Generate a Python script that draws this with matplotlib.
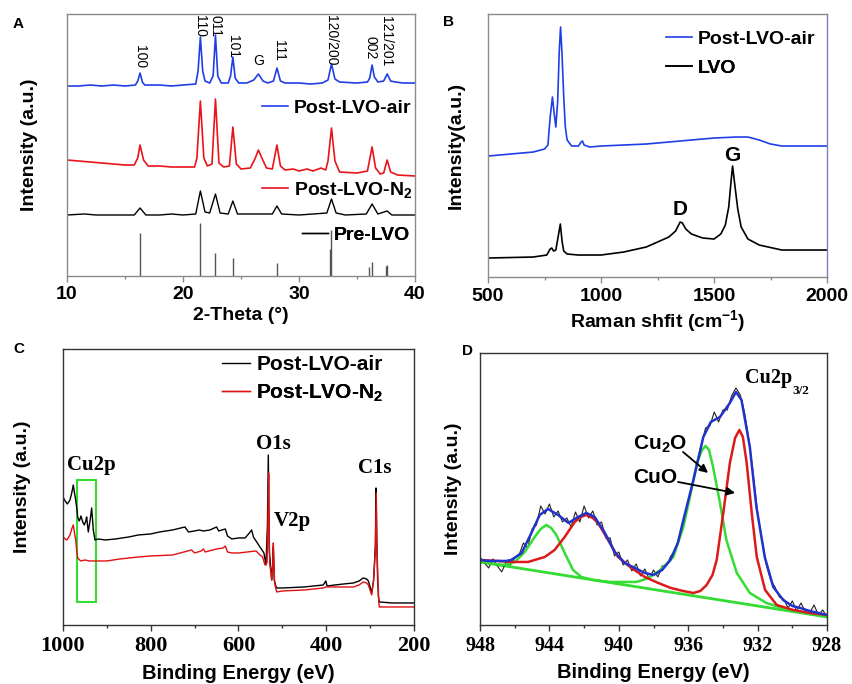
import matplotlib
matplotlib.use("Agg")
import matplotlib.pyplot as plt
from matplotlib.patches import Rectangle

plt.rcParams['font.family'] = ['Liberation Sans', 'DejaVu Sans']
plt.rcParams['font.weight'] = 'bold'
plt.rcParams['mathtext.fontset'] = 'custom'
plt.rcParams['mathtext.rm'] = 'Liberation Sans:bold'
plt.rcParams['mathtext.bf'] = 'Liberation Sans:bold'
plt.rcParams['mathtext.it'] = 'Liberation Sans:bold'

# ---------------- A: XRD ----------------
xrd_air = [(10, 190), (11, 190), (12, 191), (13, 190), (14, 191), (15, 190), (15.9, 191), (16.1, 195),
           (16.3, 203), (16.5, 194), (16.7, 191), (18, 191), (19, 190), (20, 191), (21.1, 192), (21.3, 205),
           (21.5, 239), (21.7, 205), (21.9, 195), (22.3, 193), (22.6, 200), (22.8, 241), (23.0, 200),
           (23.3, 193), (23.9, 193), (24.1, 200), (24.3, 219), (24.5, 198), (24.8, 193), (25.5, 193),
           (26.1, 196), (26.5, 202), (26.9, 195), (27.3, 193), (27.8, 195), (28.1, 208), (28.4, 195),
           (28.8, 193), (30, 193), (31, 192), (32, 193), (32.5, 196), (32.8, 212), (33.1, 197), (33.5, 194),
           (35, 193), (35.9, 194), (36.1, 198), (36.3, 211), (36.5, 199), (36.8, 194), (37.3, 195),
           (37.6, 202), (37.9, 195), (38.3, 194), (39, 193), (40, 193)]
xrd_n2 = [(10, 116), (11, 115), (12, 114), (13, 113), (14, 112), (15, 111), (15.8, 111), (16.1, 118),
          (16.3, 131), (16.6, 116), (17, 110), (18, 110), (19, 109), (20, 109), (21, 109), (21.2, 118),
          (21.5, 175), (21.8, 118), (22.1, 110), (22.5, 112), (22.8, 177), (23.1, 113), (23.5, 109),
          (24.0, 110), (24.3, 149), (24.6, 112), (25, 107), (25.8, 108), (26.2, 117), (26.5, 126),
          (26.8, 118), (27.2, 108), (27.7, 107), (28.1, 131), (28.4, 110), (28.8, 106), (29.5, 107),
          (30, 105), (30.7, 107), (31.2, 105), (31.9, 108), (32.3, 106), (32.5, 115), (32.8, 148),
          (33.1, 115), (33.5, 104), (35, 103), (35.9, 105), (36.3, 129), (36.6, 108), (37, 102),
          (37.3, 103), (37.6, 116), (37.9, 104), (38.5, 101), (40, 100)]
xrd_pre = [(10, 61), (11.5, 62), (12.5, 61), (14, 61), (15.8, 61), (16.3, 68), (16.8, 61), (18, 61),
           (19, 62), (20, 61), (21.1, 62), (21.5, 85), (21.9, 64), (22.3, 63), (22.8, 82), (23.2, 63),
           (23.9, 62), (24.3, 75), (24.7, 62), (26.5, 62), (27.7, 62), (28.1, 70), (28.5, 62), (30, 61),
           (32.4, 63), (32.8, 77), (33.2, 63), (34, 61), (35.8, 62), (36.3, 72), (36.8, 62), (37.6, 65),
           (38, 61), (40, 61)]
ref_pos = [16.3, 21.5, 22.8, 24.3, 28.1, 32.7, 32.8, 36.0, 36.3, 37.5, 37.6]
ref_height = [43, 53, 23, 18, 13, 27, 46, 9, 14, 10, 11]
peak_labels = ["100", "110", "011", "101", "G", "111", "120/200", "002", "121/201"]
peak_label_x = [16.3, 21.5, 22.8, 24.3, 26.5, 28.3, 32.8, 36.2, 37.5]
peak_label_y = [219, 250, 250, 230, 215, 226, 236, 228, 235]

# ---------------- B: Raman ----------------
raman_air = [(500, 121), (600, 123), (700, 125), (750, 128), (765, 132), (775, 160), (785, 180),
             (792, 165), (800, 150), (808, 175), (815, 225), (821, 250), (827, 225), (835, 180),
             (842, 150), (850, 137), (870, 131), (900, 131), (912, 135), (918, 136), (925, 132),
             (950, 130), (1000, 131), (1100, 132), (1200, 133), (1300, 135), (1400, 137), (1500, 139),
             (1600, 140), (1650, 140), (1700, 137), (1750, 133), (1800, 131), (1900, 131), (2000, 131)]
raman_lvo = [(500, 19), (600, 19.5), (700, 20), (760, 22), (775, 28), (782, 29), (790, 26), (800, 27),
             (810, 40), (820, 53), (828, 35), (835, 26), (850, 23), (900, 22), (1000, 22), (1100, 25),
             (1200, 30), (1250, 35), (1300, 40), (1330, 46), (1350, 55), (1360, 54), (1375, 48),
             (1400, 43), (1450, 39), (1500, 38), (1530, 43), (1550, 52), (1565, 70), (1575, 95),
             (1582, 111), (1592, 92), (1605, 68), (1620, 50), (1650, 38), (1700, 32), (1800, 27), (2000, 27)]

# ---------------- C: XPS survey ----------------
xps_air = [(1000, 128), (995, 124), (990, 121), (984, 125), (980, 132), (976.5, 140), (973, 130),
           (971, 125), (968, 115), (966.5, 108), (963, 104), (961, 106), (959, 109), (955, 103),
           (951.4, 100), (948, 104), (946, 108), (942.3, 93), (938, 105), (934.6, 117), (932, 102),
           (930.9, 95), (927, 85), (920, 86), (904, 85), (880, 86), (850, 88), (828, 90), (800, 91),
           (780, 93), (750, 95), (722, 98), (714, 93), (700, 94), (690, 95), (680, 94), (665, 95),
           (660, 96), (650, 98), (645, 94), (638, 95), (630, 96), (625, 89), (615, 86), (600, 87),
           (585, 87), (575, 92), (570, 95), (566, 88), (560, 84), (551, 78), (542, 72), (537.3, 60),
           (534, 100), (532, 170), (530, 75), (526, 55), (524.3, 45), (522, 60), (520.6, 78),
           (518.4, 45), (515, 39), (512.9, 37), (500, 37), (450, 38), (406.7, 40), (401, 44), (398, 39),
           (380, 40), (360, 41), (338, 42), (325, 44), (315.6, 47), (308, 46), (304, 44), (300, 38),
           (296.4, 32), (292, 45), (288, 80), (286.6, 137), (285, 90), (283, 47), (281, 28), (279, 23),
           (250, 22), (200, 22)]
xps_n2 = [(1000, 88), (995, 86), (991, 85), (984, 90), (980, 96), (976.5, 100), (973, 90), (971, 85),
          (968, 72), (966.5, 67), (962, 65), (959, 64), (950, 65), (940, 64), (927, 64), (900, 64),
          (870, 66), (828, 68), (800, 69), (750, 70), (707, 75), (700, 72), (685, 74), (680, 76),
          (676, 73), (650, 76), (635, 77), (630, 79), (625, 73), (615, 72), (600, 72), (580, 73),
          (560, 74), (551, 70), (545, 68), (539.6, 60), (535, 62), (533, 100), (531.2, 152), (529, 62),
          (526, 52), (524.3, 45), (522, 58), (520.6, 82), (517.7, 42), (512.9, 33), (500, 34), (450, 35),
          (406.7, 37), (400.6, 38), (380, 38), (338, 38), (325, 40), (315.6, 43), (308, 42), (304, 40),
          (296.4, 30), (292, 45), (288, 75), (285.9, 132), (284.5, 80), (282, 42), (280, 22), (279, 18),
          (250, 18), (200, 18)]
survey_labels = ["Cu2p", "O1s", "V2p", "C1s"]
survey_label_x = [935.5, 519.8, 478, 288.9]
survey_label_y = [155, 176, 99, 152]
cu_box = (924.1, 967.4, 23, 145)

# ---------------- D: Cu2p3/2 ----------------
cu_raw = [(948.00, 68), (947.75, 62), (947.50, 57), (947.25, 66), (947.00, 59), (946.75, 53),
          (946.50, 63), (946.25, 60), (946.00, 67), (945.75, 70), (945.50, 82), (945.25, 77),
          (945.00, 96), (944.75, 100), (944.50, 119), (944.25, 111), (944.00, 121), (943.75, 108),
          (943.50, 114), (943.25, 103), (943.00, 107), (942.75, 98), (942.50, 113), (942.25, 103),
          (942.00, 119), (941.75, 107), (941.50, 114), (941.25, 100), (941.00, 103), (940.75, 87),
          (940.50, 87), (940.25, 69), (940.00, 73), (939.75, 60), (939.50, 65), (939.25, 54),
          (939.00, 61), (938.75, 49), (938.50, 56), (938.25, 46), (938.00, 55), (937.75, 48),
          (937.50, 59), (937.25, 60), (937.00, 69), (936.75, 74), (936.50, 89), (936.25, 103),
          (936.00, 123), (935.75, 139), (935.50, 163), (935.25, 180), (935.00, 197), (934.75, 199),
          (934.50, 213), (934.25, 203), (934.00, 215), (933.75, 215), (933.50, 229), (933.25, 237),
          (933.00, 230), (932.75, 212), (932.50, 185), (932.25, 150), (932.00, 112), (931.75, 86),
          (931.50, 60), (931.25, 45), (931.00, 38), (930.75, 28), (930.50, 26), (930.25, 17),
          (930.00, 24), (929.75, 14), (929.50, 22), (929.25, 13), (929.00, 12), (928.75, 20),
          (928.50, 10), (928.25, 15), (928.00, 8)]
cu_envelope = [(948, 65), (947.5, 64), (947, 64), (946.5, 64), (946.2, 65), (945.6, 72), (945.04, 92),
               (944.56, 110), (944.08, 116), (943.5, 110), (942.9, 102), (942.35, 108), (941.87, 112),
               (941.39, 108), (940.8, 92), (940.24, 73), (939.66, 62), (939.08, 57), (938.5, 52),
               (938.0, 50), (937.5, 55), (937.03, 65), (936.6, 82), (936.28, 105), (935.7, 145),
               (935.13, 188), (934.7, 203), (934.17, 208), (933.6, 222), (933.25, 233), (932.93, 225),
               (932.45, 178), (932.07, 118), (931.59, 68), (931.1, 38), (930.53, 25), (930, 19),
               (929.55, 17), (929, 14), (928.5, 12), (928, 10)]
cu2o_fit = [(948, 63), (947, 60.5), (946.5, 60), (946.0, 63), (945.42, 73), (944.85, 88), (944.5, 96),
            (944.18, 100), (943.9, 97), (943.6, 90), (943.12, 72), (942.64, 55), (942.16, 48),
            (941.5, 45), (940.5, 43), (940, 43), (939, 43), (938.6, 45), (938.2, 48), (937.6, 55),
            (936.86, 68), (936.28, 98), (935.9, 128), (935.5, 162), (935.2, 175), (935.0, 179),
            (934.8, 175), (934.57, 158), (934.17, 122), (933.8, 85), (933.2, 52), (932.45, 32),
            (931.5, 22), (930.2, 15), (929, 11.5), (928, 9)]
cuo_fit = [(948, 65), (947, 64), (946.2, 63), (945.23, 63), (944.27, 68), (943.7, 75), (943.12, 88),
           (942.54, 103), (942.2, 108), (941.87, 110), (941.5, 107), (941.2, 102), (940.62, 85),
           (940.05, 68), (939.28, 57), (938.5, 48), (937.73, 42), (937, 37), (936.3, 34), (935.7, 32),
           (935.3, 34), (934.94, 40), (934.6, 50), (934.36, 65), (933.98, 112), (933.6, 162),
           (933.3, 187), (933.05, 195), (932.85, 188), (932.63, 162), (932.34, 112), (932.05, 68),
           (931.57, 35), (930.9, 20), (929.96, 15), (929, 12), (928, 10)]
cu_background = [(948, 63), (928, 8)]


def xy(points):
    return [p[0] for p in points], [p[1] for p in points]


def style_axes(ax, spine_color, major, minor):
    for s in ax.spines.values():
        s.set_color(spine_color)
        s.set_linewidth(1.0)
    ax.set_yticks([])
    ax.set_xticks(major)
    ax.set_xticks(minor, minor=True)
    ax.tick_params(axis='x', which='major', direction='out', length=4, width=1, color=spine_color, pad=4)
    ax.tick_params(axis='x', which='minor', direction='out', length=2.5, width=1, color=spine_color)


def key(ax, line, label, x, y, fs):
    leg = ax.legend([line], [label], loc='center left', bbox_to_anchor=(x, y), frameon=False,
                    fontsize=fs, handlelength=1.35, handletextpad=0.3, borderpad=0, borderaxespad=0)
    ax.add_artist(leg)


fig = plt.figure(figsize=(8.52, 6.84), dpi=100)
axA = fig.add_axes([0.0786, 0.5965, 0.4085, 0.383])
axB = fig.add_axes([0.5728, 0.595, 0.3979, 0.3845])
axC = fig.add_axes([0.0739, 0.0863, 0.412, 0.4035])
axD = fig.add_axes([0.5634, 0.0863, 0.4073, 0.3977])

blue = '#1f3fe6'
red = '#e8141c'

# A
la, = axA.plot(*xy(xrd_air), color=blue, lw=1.2)
ln, = axA.plot(*xy(xrd_n2), color=red, lw=1.2)
lp, = axA.plot(*xy(xrd_pre), color='k', lw=1.0)
axA.vlines(ref_pos, 0, ref_height, color='#555555', lw=1.0)
for t, x, y in zip(peak_labels, peak_label_x, peak_label_y):
    axA.text(x, y, t, rotation=0 if t == "G" else 270, ha='center', va='center',
             fontsize=10, fontweight='normal')
axA.set_xlim(10, 40)
axA.set_ylim(0, 262)
style_axes(axA, '#8a8a8a', [10, 20, 30, 40], [15, 25, 35])
axA.tick_params(axis='x', labelsize=14, pad=3)
axA.set_xlabel("2-Theta (°)", fontsize=14, fontweight='bold', labelpad=3)
axA.set_ylabel("Intensity (a.u.)", fontsize=14, fontweight='bold', labelpad=21)
key(axA, la, "Post-LVO-air", 0.560, 0.641, 14)
key(axA, ln, r"Post-LVO-N$_\mathbf{2}$", 0.560, 0.328, 14)
key(axA, lp, "Pre-LVO", 0.675, 0.156, 14)

# B
lb1, = axB.plot(*xy(raman_air), color=blue, lw=1.2)
lb2, = axB.plot(*xy(raman_lvo), color='k', lw=1.2)
axB.text(1352, 62, "D", ha='center', va='baseline', fontsize=15)
axB.text(1580, 116, "G", ha='center', va='baseline', fontsize=15)
axB.set_xlim(500, 2000)
axB.set_ylim(0, 263)
style_axes(axB, '#8a8a8a', [500, 1000, 1500, 2000], [750, 1250, 1750])
axB.spines['right'].set_color('#7b7fc8')
axB.tick_params(axis='x', labelsize=14)
axB.set_xlabel(r"Raman shfit (cm$^{\mathbf{-1}}$)", fontsize=14, fontweight='bold', labelpad=2)
axB.set_ylabel("Intensity(a.u.)", fontsize=14, fontweight='bold', labelpad=17)
key(axB, lb1, "Post-LVO-air", 0.525, 0.905, 14)
key(axB, lb2, "LVO", 0.525, 0.795, 14)

# C
lc1, = axC.plot(*xy(xps_air), color='k', lw=1.0)
lc2, = axC.plot(*xy(xps_n2), color='#e01010', lw=1.0)
axC.add_patch(Rectangle((cu_box[0], cu_box[2]), cu_box[1] - cu_box[0], cu_box[3] - cu_box[2],
                        fill=False, edgecolor='#33dd33', lw=1.5))
for t, x, y in zip(survey_labels, survey_label_x, survey_label_y):
    axC.text(x, y, t, ha='center', va='baseline', fontsize=15, family='Liberation Serif', fontweight='bold')
axC.set_xlim(1000, 200)
axC.set_ylim(0, 276)
style_axes(axC, '#333333', [1000, 800, 600, 400, 200], [900, 700, 500, 300])
axC.tick_params(axis='x', labelsize=16)
for lab in axC.get_xticklabels():
    lab.set_family('Liberation Serif')
    lab.set_fontweight('bold')
axC.set_xlabel("Binding Energy (eV)", fontsize=14.5, fontweight='bold', labelpad=6)
axC.set_ylabel("Intensity (a.u.)", fontsize=14, fontweight='bold', labelpad=23)
key(axC, lc1, "Post-LVO-air", 0.453, 0.942, 15)
key(axC, lc2, r"Post-LVO-N$_\mathbf{2}$", 0.453, 0.841, 15)

# D
axD.plot(*xy(cu_background), color='#6a3a8a', lw=1.0)
axD.plot(*xy(cu_background), color='#33dd33', lw=2.0)
axD.plot(*xy(cu_raw), color='#222222', lw=0.8)
axD.plot(*xy(cu2o_fit), color='#33dd33', lw=1.8)
axD.plot(*xy(cuo_fit), color='#dd1a1a', lw=1.8)
axD.plot(*xy(cu_envelope), color='#2233cc', lw=1.8)
head = axD.text(932.73, 242, "Cu2p", ha='left', va='baseline', fontsize=14.5,
                family='Liberation Serif', fontweight='bold')
axD.annotate("3/2", xy=(1, 0), xycoords=head, xytext=(0.5, -2), textcoords='offset points',
             ha='left', va='center', fontsize=9.5, family='Liberation Serif', fontweight='bold')
axD.text(939.18, 175, r"Cu$_\mathbf{2}$O", ha='left', va='baseline', fontsize=15)
axD.text(939.18, 142, "CuO", ha='left', va='baseline', fontsize=15)
arrow = dict(arrowstyle='-|>', color='k', lw=1.3, mutation_scale=12, shrinkA=0, shrinkB=0)
axD.annotate("", xy=(934.86, 152), xytext=(936.3, 173), arrowprops=arrow)
axD.annotate("", xy=(933.3, 132), xytext=(936.59, 143), arrowprops=arrow)
axD.set_xlim(948, 928)
axD.set_ylim(0, 272)
style_axes(axD, '#333333', [948, 944, 940, 936, 932, 928], [946, 942, 938, 934, 930])
axD.tick_params(axis='x', labelsize=14.5)
for lab in axD.get_xticklabels():
    lab.set_family('Liberation Serif')
    lab.set_fontweight('bold')
axD.set_xlabel("Binding Energy (eV)", fontsize=14.5, fontweight='bold', labelpad=5)
axD.set_ylabel("Intensity (a.u.)", fontsize=14, fontweight='bold', labelpad=13)

for letter, x, y in [("A", 13, 24), ("B", 443, 22), ("C", 13, 349), ("D", 462, 351)]:
    fig.text(x / 852, 1 - y / 684, letter, fontsize=11, fontweight='bold', va='center', ha='left')

fig.savefig("out.png", dpi=100)
